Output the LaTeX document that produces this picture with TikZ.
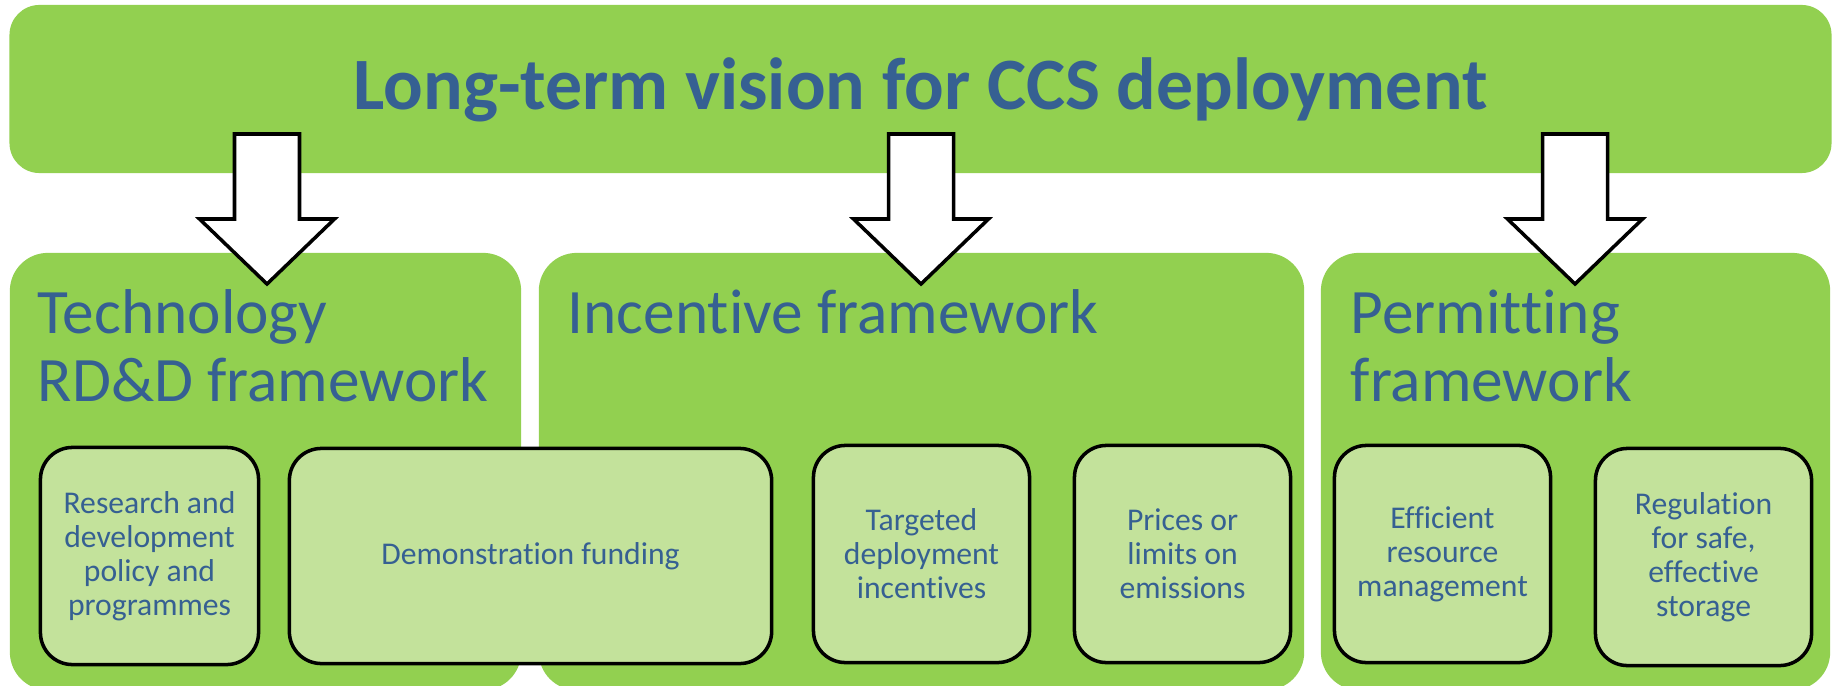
\documentclass[tikz,border=0pt]{standalone}
\usepackage{fontspec}
\setmainfont{Carlito}[Ligatures={NoCommon}]
\usepackage{tikz}
\usetikzlibrary{positioning}
\definecolor{ccsgreen}{HTML}{92D050}
\definecolor{ccslight}{HTML}{C3E29B}
\definecolor{ccsblue}{HTML}{366092}
\tikzset{>=latex}

\begin{document}
\begin{tikzpicture}[x=0.01cm, y=-0.01cm,
  panel/.style={fill=ccsgreen, rounded corners=0.38cm, inner sep=0pt},
  measure/.style={draw=black, line width=1pt, fill=ccslight,
    rounded corners=0.32cm, inner sep=0pt, align=center, text=ccsblue,
    font=\fontsize{9}{9.7}\selectfont},
  heading/.style={anchor=north west, inner sep=0pt, align=left,
    text=ccsblue, font=\fontsize{18}{19.3}\selectfont},
  bigarrow/.style={draw=black, line width=1pt, fill=white}]
  \useasboundingbox (0,0) rectangle (1837,685);
  \clip (0,0) rectangle (1837,685);
  \fill[white] (0,0) rectangle (1837,685);

  % vision banner
  \node[panel, rounded corners=0.3cm, minimum width=18.21cm, minimum height=1.68cm]
    (banner) at (920.5,89) {};
  \node[anchor=base, inner sep=0pt, text=ccsblue,
    font=\fontsize{21}{25}\selectfont\bfseries]
    (vision) at (920.5,110) {Long-term vision for CCS deployment};

  % the three frameworks
  \node[panel, minimum width=5.11cm, minimum height=4.37cm] (tech) at (265.5,471.5) {};
  \node[panel, minimum width=7.65cm, minimum height=4.37cm] (incent) at (921.5,471.5) {};
  \node[panel, minimum width=5.09cm, minimum height=4.37cm] (permit) at (1575.5,471.5) {};

  % arrows down from the banner
  \foreach \c in {267,921,1575}
    \draw[bigarrow] (\c-32.5,134) -- (\c+32.5,134) -- (\c+32.5,219)
      -- (\c+67.5,219) -- (\c,284) -- (\c-67.5,219) -- (\c-32.5,219) -- cycle;

  \node[heading] (techhead) at (37,289) {Technology\\RD\&D framework};
  \node[heading] (incenthead) at (567,289) {Incentive framework};
  \node[heading] (permithead) at (1350,289) {Permitting\\framework};

  % measures
  \node[measure, minimum width=2.18cm, minimum height=2.17cm] (research) at (149.5,556)
    {Research and\\development\\policy and\\programmes};
  \node[measure, minimum width=4.82cm, minimum height=2.15cm] (demo) at (530.5,556)
    {Demonstration funding};
  \node[measure, minimum width=2.16cm, minimum height=2.17cm] (targeted) at (921.5,554)
    {Targeted\\deployment\\incentives};
  \node[measure, minimum width=2.16cm, minimum height=2.17cm] (prices) at (1182.5,554)
    {Prices or\\limits on\\emissions};
  \node[measure, minimum width=2.16cm, minimum height=2.17cm] (efficient) at (1442.5,554)
    {Efficient\\resource\\management};
  \node[measure, minimum width=2.16cm, minimum height=2.17cm] (regulation) at (1703.5,557)
    {Regulation\\for safe,\\effective\\storage};
\end{tikzpicture}
\end{document}
